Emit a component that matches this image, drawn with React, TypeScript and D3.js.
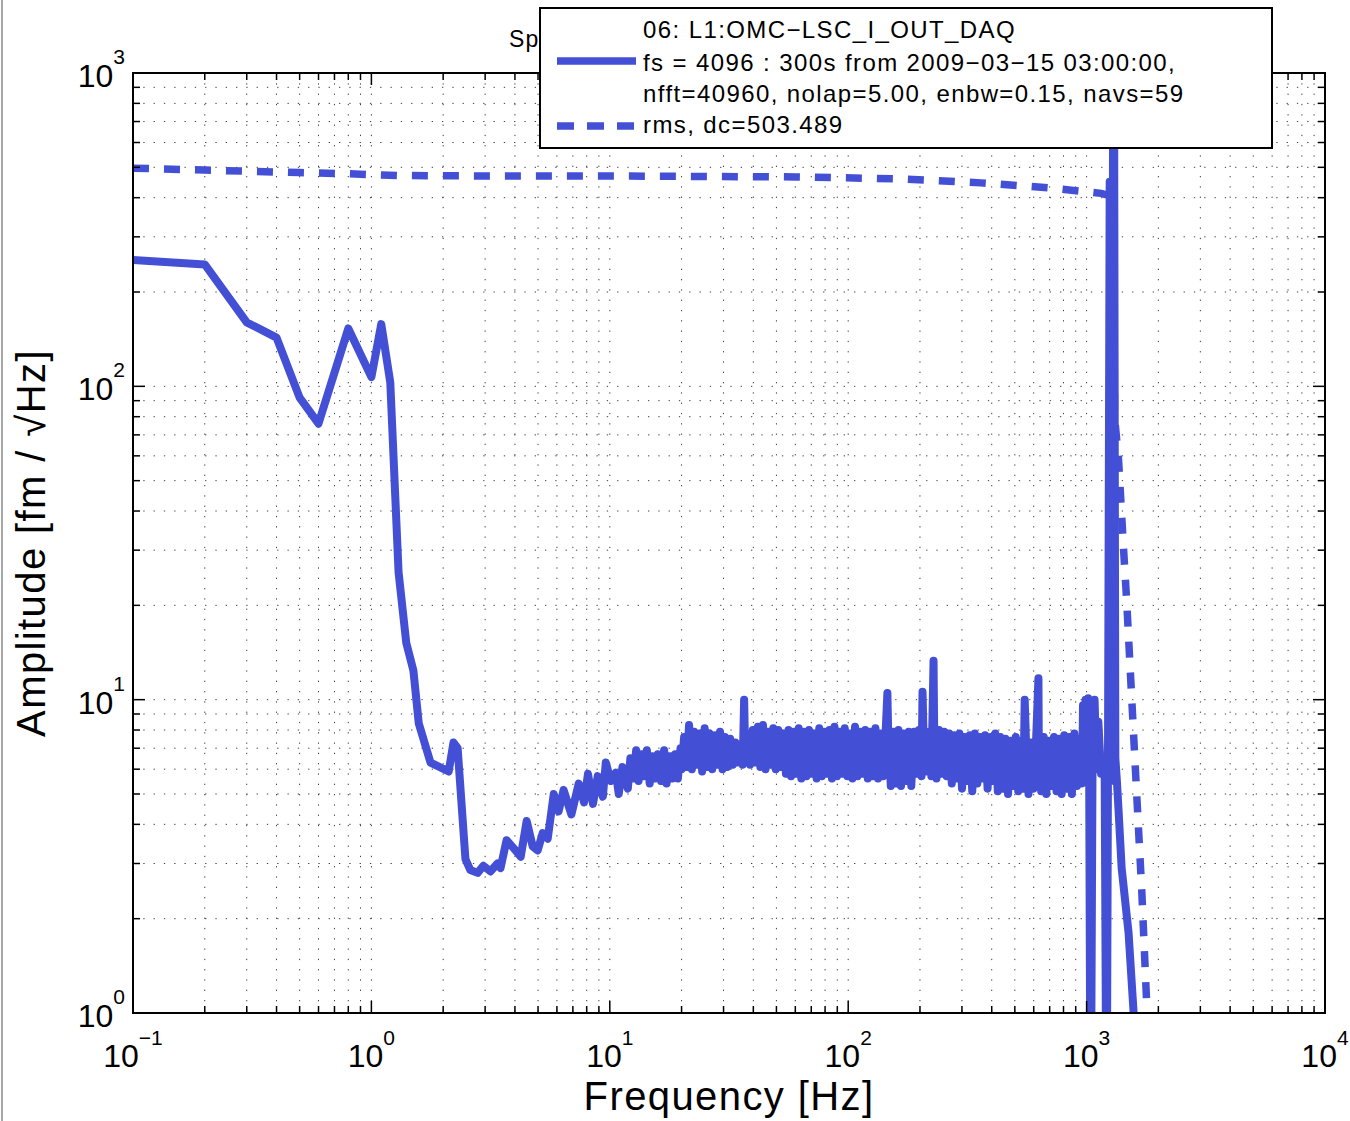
import React from 'react';
import * as d3 from 'd3';

// amplitude spectral density, [frequency Hz, amplitude fm/rtHz]
const psdLow: [number, number][] = [
  [0.1, 253], [0.2, 245], [0.3, 160], [0.4, 143], [0.5, 92], [0.6, 76], [0.8, 153],
  [1.0, 107], [1.1, 158], [1.2, 103], [1.3, 25.5], [1.4, 15.2], [1.5, 12.4], [1.58, 8.4],
  [1.77, 6.3], [2.11, 5.9], [2.21, 7.3], [2.3, 7.0], [2.48, 3.1], [2.6, 2.86], [2.79, 2.8],
  [2.95, 2.95], [3.16, 2.83], [3.38, 3.0], [3.48, 2.9], [3.69, 3.56], [4.03, 3.3], [4.23, 3.15],
  [4.48, 4.1], [4.75, 3.4], [4.98, 3.3], [5.23, 3.75], [5.49, 3.6], [5.82, 5.0], [6.1, 4.4],
  [6.4, 5.15], [6.9, 4.3], [7.41, 5.4], [7.8, 4.7], [8.1, 5.8], [8.5, 4.65], [8.9, 5.7],
  [9.35, 4.9], [9.62, 6.3], [10.1, 5.5], [10.6, 5.85], [10.9, 5.0], [11.3, 6.1], [11.9, 5.2],
  [12.2, 6.5], [12.6, 5.6], [12.9, 6.9], [13.2, 5.5], [13.6, 6.7], [13.9, 5.7], [14.3, 6.9],
  [14.7, 5.4], [15.1, 6.6], [15.5, 5.6], [15.9, 6.7], [16.4, 5.5], [16.9, 6.9], [17.3, 5.4],
  [17.8, 6.6], [18.3, 5.6], [18.8, 6.7], [19.3, 5.6], [19.8, 7.0],
];

// the dense noise floor 20 Hz - 1 kHz, with its lines
const psdBand: [number, number][] = [
  [20.0, 6.0], [20.5, 7.6], [21.0, 6.1], [21.5, 8.3], [22.1, 6.0], [22.6, 7.9], [23.2, 6.2],
  [23.8, 7.8], [24.4, 5.9], [25.0, 8.1], [25.6, 6.1], [26.2, 7.8], [26.9, 6.0], [27.6, 7.7],
  [28.3, 6.2], [29.0, 7.9], [29.7, 6.0], [30.4, 7.6], [31.2, 6.1], [32.0, 7.5],
  [32.8, 6.2], [33.6, 7.3], [34.4, 6.3], [35.3, 7.2], [36.1, 6.2], [36.6, 10.0], [37.0, 6.4],
  [37.9, 7.3], [38.8, 6.2],
  [39.8, 8.0], [40.8, 6.3], [41.8, 8.2], [42.8, 6.1], [43.9, 8.3], [45.0, 6.0], [46.1, 7.9],
  [47.3, 6.2], [48.5, 8.1], [49.7, 6.0], [50.9, 8.0], [52.2, 6.1], [53.5, 7.8],
  [54.8, 5.8], [56.2, 8.0], [57.6, 5.7], [59.0, 7.9], [60.5, 5.8], [62.0, 8.1], [63.6, 5.6],
  [65.2, 7.9], [66.8, 5.7], [68.5, 8.0], [70.2, 5.8], [71.9, 7.8], [73.7, 5.6], [75.6, 8.1],
  [77.5, 5.7], [79.4, 7.9], [81.4, 5.8], [83.4, 8.0], [85.5, 5.6],
  [87.6, 8.2], [89.8, 5.7], [92.1, 7.9], [94.4, 5.8], [96.7, 8.1], [99.2, 5.7], [101.6, 7.8],
  [104.2, 5.6], [106.8, 8.2], [109.4, 5.7], [112.2, 7.9], [115.0, 5.8], [117.9, 8.0],
  [120.8, 5.6], [123.8, 7.9], [126.9, 5.7], [130.1, 8.1], [133.4, 5.6], [136.7, 7.8], [140.1, 5.7],
  [143.6, 7.9], [146.0, 10.5], [147.2, 7.7], [150.9, 5.3], [154.7, 7.9], [158.5, 5.4],
  [162.5, 8.0], [166.6, 5.3], [170.7, 7.8], [175.0, 5.5], [179.4, 7.9], [183.9, 5.3],
  [188.5, 7.9], [193.2, 5.8], [198.0, 8.0], [203.0, 5.7], [205.0, 10.6], [207.0, 7.8],
  [212.5, 5.9], [217.8, 7.9], [223.3, 5.7], [228.0, 13.3], [229.5, 7.8], [234.6, 5.6],
  [240.5, 8.0], [246.5, 5.8], [252.6, 7.9], [258.9, 5.7], [265.4, 7.8],
  [272.0, 5.4], [278.8, 7.7], [285.8, 5.6], [292.9, 7.8], [300.2, 5.2], [307.7, 7.6],
  [315.4, 5.5], [323.3, 7.7], [331.4, 5.1], [339.7, 7.8], [348.2, 5.4], [356.9, 7.6],
  [365.8, 5.6], [375.0, 7.7], [384.3, 5.2], [394.0, 7.6], [403.8, 5.5], [413.9, 7.8],
  [424.2, 5.1], [434.8, 7.6],
  [445.7, 5.2], [456.8, 7.5], [468.2, 5.0], [479.9, 7.4], [491.9, 5.3], [504.2, 7.6],
  [516.8, 5.1], [529.7, 7.4], [543.0, 5.2], [550.0, 10.0], [556.5, 7.5], [570.4, 5.0],
  [584.7, 7.3], [599.3, 5.2], [614.3, 7.5], [628.0, 11.7], [630.0, 7.4], [645.0, 5.1],
  [661.1, 7.6], [677.6, 5.0], [694.6, 7.4], [711.9, 5.3], [729.7, 7.6], [748.0, 5.1],
  [766.7, 7.5], [785.9, 5.0], [805.5, 7.7], [825.6, 5.2], [846.3, 7.6], [867.4, 5.0],
  [889.1, 7.8], [911.3, 5.3], [934.1, 7.5],
  [957.5, 5.4], [966, 9.6], [981.4, 5.6], [990, 10.0], [1006, 5.5], [1015, 10.1], [1025, 6.0],
  [1040, 0.3],
];

// anti-alias region and the big line near 1.3 kHz
const psdTail: [number, number][] = [
  [1060, 7.5], [1080, 10.0], [1100, 6.0], [1120, 8.5], [1150, 5.8], [1190, 6.5], [1213, 0.3],
  [1230, 7.0], [1250, 450], [1265, 5.5], [1300, 3000], [1320, 6.5], [1340, 5.5], [1360, 4.5],
  [1403, 2.9], [1500, 1.8], [1575, 1.0], [1660, 0.5],
];

// cumulative rms from high frequency down
const rmsCurve: [number, number][] = [
  [0.1, 497], [0.2, 490], [0.3, 486], [0.5, 481], [0.8, 477], [1.0, 474], [1.3, 471], [3, 469],
  [10, 469], [60, 466], [170, 459], [360, 446], [700, 430], [1150, 413], [1280, 404],
  [1300, 200], [1310, 80], [1362, 58], [1430, 30], [1472, 20.8], [1545, 10.2], [1622, 5.0],
  [1703, 2.47], [1786, 1.08], [1850, 0.6],
];

const xMajor = [0.1, 1, 10, 100, 1000, 10000];
const xExp = ['\u22121', '0', '1', '2', '3', '4'];
const yMajor = [1, 10, 100, 1000];
const yExp = ['0', '1', '2', '3'];

const legendLines = [
  '06: L1:OMC\u2212LSC_I_OUT_DAQ',
  'fs = 4096 : 300s from 2009\u221203\u221215 03:00:00,',
  'nfft=40960, nolap=5.00, enbw=0.15, navs=59',
  'rms, dc=503.489',
];

const W = 1350;
const H = 1121;
const left = 133, right = 1325, top = 73, bottom = 1013;
const blue = '#4350D6';
const font = '"Liberation Sans", Arial, Helvetica, sans-serif';

export default function App() {
  const x = d3.scaleLog().domain([0.1, 1e4]).range([left, right]);
  const y = d3.scaleLog().domain([1, 1000]).range([bottom, top]);

  const line = d3
    .line<[number, number]>()
    .x((d) => x(d[0]))
    .y((d) => y(d[1]));

  const psd = [...psdLow, ...psdBand, ...psdTail];

  const xTicks = x.ticks();
  const yTicks = y.ticks();
  const isMajor = (v: number) => Math.abs(Math.log10(v) - Math.round(Math.log10(v))) < 1e-6;

  return (
    <div style={{ position: 'absolute', left: 0, top: 0 }}>
      <svg width={W} height={H} style={{ display: 'block', fontFamily: font }}>
        <rect width={W} height={H} fill="#fff" />
        <line x1={2} x2={2} y1={0} y2={H} stroke="#8a8a8a" strokeWidth={1.5} />
        <defs>
          <clipPath id="plotclip">
            <rect x={left} y={top} width={right - left} height={bottom - top} />
          </clipPath>
          <clipPath id="titleclip">
            <rect x={0} y={0} width={540} height={70} />
          </clipPath>
        </defs>

        {/* title, hidden behind the legend except its first letters */}
        <g clipPath="url(#titleclip)">
          <text x={509} y={47} fontSize={23} letterSpacing={1.2} fill="#000">
            Spectrum
          </text>
        </g>

        {/* dotted grid */}
        <g stroke="#000" strokeWidth={1} strokeDasharray="1.3 9" opacity={0.75}>
          {xTicks
            .filter((t) => t > 0.1 && t < 1e4)
            .map((t, i) => (
              <line key={'gx' + i} x1={x(t)} x2={x(t)} y1={top} y2={bottom} />
            ))}
          {yTicks
            .filter((t) => t > 1 && t < 1000)
            .map((t, i) => (
              <line key={'gy' + i} x1={left} x2={right} y1={y(t)} y2={y(t)} />
            ))}
        </g>

        {/* data */}
        <g clipPath="url(#plotclip)" fill="none" stroke={blue}>
          <path d={line(psd) || ''} strokeWidth={8} strokeLinejoin="round" strokeLinecap="round" />
          <path d={line(rmsCurve) || ''} strokeWidth={7.5} strokeDasharray="16 15" />
        </g>

        {/* box and ticks */}
        <rect x={left} y={top} width={right - left} height={bottom - top} fill="none" stroke="#000" strokeWidth={2} />
        <g stroke="#000" strokeWidth={1.5}>
          {xTicks.map((t, i) => {
            const len = isMajor(t) ? 12 : 7;
            return (
              <g key={'tx' + i}>
                <line x1={x(t)} x2={x(t)} y1={bottom} y2={bottom - len} />
                <line x1={x(t)} x2={x(t)} y1={top} y2={top + len} />
              </g>
            );
          })}
          {yTicks.map((t, i) => {
            const len = isMajor(t) ? 12 : 7;
            return (
              <g key={'ty' + i}>
                <line x1={left} x2={left + len} y1={y(t)} y2={y(t)} />
                <line x1={right} x2={right - len} y1={y(t)} y2={y(t)} />
              </g>
            );
          })}
        </g>

        {/* tick labels */}
        <g fill="#000">
          {xMajor.map((t, i) => (
            <text key={'lx' + i} x={x(t)} y={bottom + 54} fontSize={32} textAnchor="middle">
              10
              <tspan fontSize={21} dy={-22}>
                {xExp[i]}
              </tspan>
            </text>
          ))}
          {yMajor.map((t, i) => (
            <text key={'ly' + i} x={left - 8} y={y(t) + 14} fontSize={32} textAnchor="end">
              10
              <tspan fontSize={21} dy={-23}>
                {yExp[i]}
              </tspan>
            </text>
          ))}
        </g>

        {/* axis labels */}
        <text x={(left + right) / 2} y={1110} fontSize={40} letterSpacing={1.4} textAnchor="middle" fill="#000">
          Frequency [Hz]
        </text>
        <text
          transform={`translate(45, ${(top + bottom) / 2}) rotate(-90)`}
          fontSize={40}
          letterSpacing={1.4}
          textAnchor="middle"
          fill="#000"
        >
          Amplitude [fm / {'\u221A'}Hz]
        </text>

        {/* legend */}
        <g>
          <rect x={540} y={8} width={732} height={140} fill="#fff" stroke="#000" strokeWidth={2} />
          <line x1={557} x2={636} y1={61} y2={61} stroke={blue} strokeWidth={7.5} />
          <line x1={557} x2={636} y1={126} y2={126} stroke={blue} strokeWidth={7.5} strokeDasharray="17 13" />
          {legendLines.map((s, i) => (
            <text key={'lg' + i} x={643} y={[38, 71, 102, 133][i]} fontSize={24} letterSpacing={1.4} fill="#000">
              {s}
            </text>
          ))}
        </g>
      </svg>
    </div>
  );
}
